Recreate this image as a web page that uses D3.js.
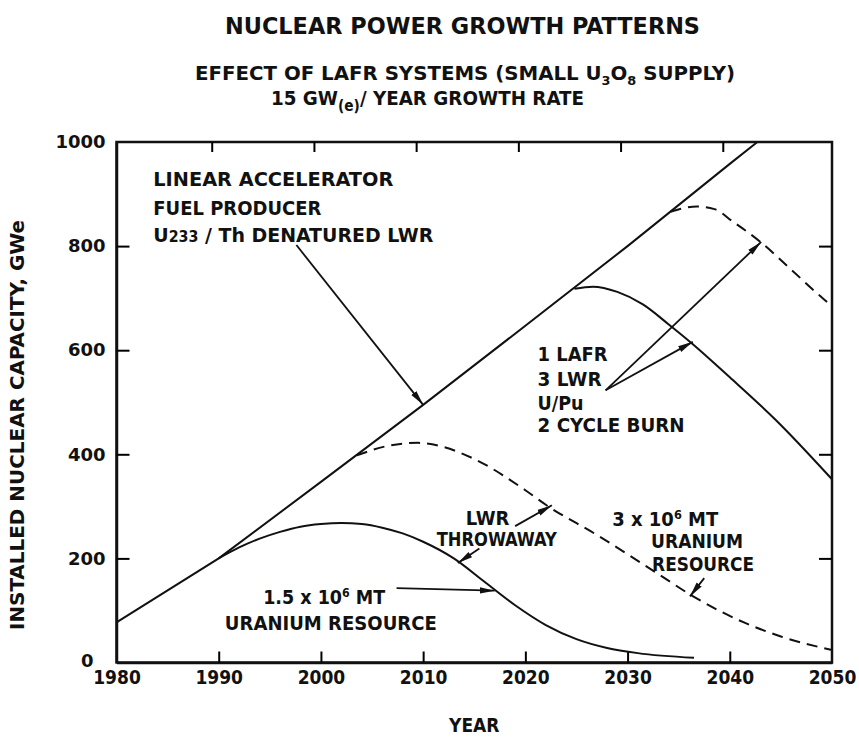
<!DOCTYPE html>
<html>
<head>
<meta charset="utf-8">
<script src="https://cdn.jsdelivr.net/npm/d3@7"></script>
<style>
  body { margin: 0; background: #fff; }
  svg text { font-family: "DejaVu Sans Condensed", "DejaVu Sans", sans-serif; font-weight: bold; fill: #111; }
</style>
</head>
<body>
<div id="content"></div>
<script>
// axis ticks
var xTicks = [1980, 1990, 2000, 2010, 2020, 2030, 2040, 2050];
var yTicks = [0, 200, 400, 600, 800, 1000];

// linear accelerator fuel producer (upper straight line)
var lafrYears  = [1980, 1990, 2000, 2010, 2020, 2030, 2040, 2042.7];
var lafrValues = [77, 200, 347, 495, 647, 800, 958, 1000];

// 1.5 x 10^6 MT uranium resource, LWR throwaway (solid)
var small1Years  = [1990, 1992, 1994, 1996, 1998, 2000, 2002, 2004, 2006, 2008, 2010, 2013, 2016, 2019, 2022, 2025, 2028, 2031, 2036.5];
var small1Values = [200, 221, 238, 251, 261, 266, 268, 266, 259, 248, 232, 200, 155, 110, 72, 45, 28, 18, 9];

// 3 x 10^6 MT uranium resource, LWR throwaway (dashed)
var large1Years  = [2003.5, 2006.5, 2009.5, 2012, 2015, 2020, 2022, 2027, 2033, 2036.5, 2041.5, 2045, 2050];
var large1Values = [398, 416, 422, 414, 391, 331, 303, 245, 170, 126, 76, 50, 24];

// 1 LAFR / 3 LWR U/Pu 2 cycle burn, small resource (solid)
var small2Years  = [2024.8, 2026.6, 2029, 2031.5, 2034, 2036.3, 2040, 2044.5, 2050];
var small2Values = [718, 722, 712, 688, 650, 613, 548, 466, 352];

// 1 LAFR / 3 LWR U/Pu 2 cycle burn, large resource (dashed)
var large2Years  = [2034.2, 2036.8, 2038.5, 2040.3, 2043, 2046, 2049.2, 2050];
var large2Values = [866, 876, 871, 847, 808, 755, 698, 685];

// annotation arrows: [fromYear, fromValue, toYear, toValue]
var arrows = [
  [1997.6, 802, 2010.0, 495],
  [2027.85, 523, 2043.07, 808],
  [2027.85, 523, 2036.38, 616],
  [2007.4, 143, 2017.0, 138],
  [2019.0, 262, 2022.6, 302],
  [2015.5, 219, 2013.4, 191],
  [2037.5, 162, 2036.1, 127]
];

var W = 859, H = 741;
var margin = { top: 142, right: 27, bottom: 78.5, left: 116.5 };

var svg = d3.select('#content').append('svg')
  .attr('width', W)
  .attr('height', H);

var x = d3.scaleLinear().domain([1980, 2050]).range([margin.left, W - margin.right]);
var y = d3.scaleLinear().domain([0, 1000]).range([H - margin.bottom, margin.top]);

svg.append('defs').append('marker')
  .attr('id', 'head')
  .attr('viewBox', '0 -4 15 8')
  .attr('refX', 15)
  .attr('refY', 0)
  .attr('markerWidth', 15)
  .attr('markerHeight', 8)
  .attr('markerUnits', 'userSpaceOnUse')
  .attr('orient', 'auto')
  .append('path')
  .attr('d', 'M0,-3.2L15,0L0,3.2Z')
  .attr('fill', '#111');

// frame
svg.append('rect')
  .attr('x', x(1980)).attr('y', y(1000))
  .attr('width', x(2050) - x(1980)).attr('height', y(0) - y(1000))
  .attr('fill', 'none').attr('stroke', '#111').attr('stroke-width', 2.5);

// axes
var inner = xTicks.slice(1, -1);
var innerY = yTicks.slice(1, -1);

var xAxis = svg.append('g')
  .attr('transform', 'translate(0,' + y(0) + ')')
  .call(d3.axisBottom(x).tickValues(xTicks).tickFormat(d3.format('d'))
    .tickSize(-11).tickSizeOuter(0).tickPadding(8));
xAxis.selectAll('.tick line').attr('stroke-width', 2).attr('opacity', function(d) { return inner.indexOf(d) < 0 ? 0 : 1; });
xAxis.selectAll('text').style('font-size', '19px').attr('fill', '#111');

var yAxis = svg.append('g')
  .attr('transform', 'translate(' + x(1980) + ',0)')
  .call(d3.axisLeft(y).tickValues(yTicks).tickFormat(d3.format('d'))
    .tickSize(-13).tickSizeOuter(0).tickPadding(11));
yAxis.selectAll('.tick line').attr('stroke-width', 2).attr('opacity', function(d) { return innerY.indexOf(d) < 0 ? 0 : 1; });
yAxis.selectAll('text').style('font-size', '18px').style('font-family', '"DejaVu Sans", sans-serif').attr('fill', '#111');
// the zero label sits left of the corner, clear of the year labels
yAxis.selectAll('.tick').filter(function(d) { return d === 0; }).select('text')
  .attr('x', -23).attr('dy', '0.2em');

var topAxis = svg.append('g')
  .attr('transform', 'translate(-7,' + y(1000) + ')')
  .call(d3.axisTop(x).tickValues(inner).tickFormat('').tickSize(-10).tickSizeOuter(0));
topAxis.select('.domain').remove();
topAxis.selectAll('.tick line').attr('stroke-width', 2);

var rightAxis = svg.append('g')
  .attr('transform', 'translate(' + x(2050) + ',0)')
  .call(d3.axisRight(y).tickValues(innerY).tickFormat('').tickSize(-13).tickSizeOuter(0));
rightAxis.select('.domain').remove();
rightAxis.selectAll('.tick line').attr('stroke-width', 2);

svg.selectAll('.domain').attr('stroke-width', 2.5).attr('stroke', '#111');

// curves
function pairs(xs, vs) { return xs.map(function(d, i) { return [d, vs[i]]; }); }

var straight = d3.line().x(function(d) { return x(d[0]); }).y(function(d) { return y(d[1]); });
var smooth = d3.line().x(function(d) { return x(d[0]); }).y(function(d) { return y(d[1]); }).curve(d3.curveMonotoneX);

var curves = [
  { d: pairs(lafrYears, lafrValues), gen: straight, dash: null },
  { d: pairs(small1Years, small1Values), gen: smooth, dash: null },
  { d: pairs(large1Years, large1Values), gen: smooth, dash: '11,7' },
  { d: pairs(small2Years, small2Values), gen: smooth, dash: null },
  { d: pairs(large2Years, large2Values), gen: smooth, dash: '11,7' }
];

svg.append('g').selectAll('path')
  .data(curves)
  .enter().append('path')
  .attr('d', function(c) { return c.gen(c.d); })
  .attr('fill', 'none')
  .attr('stroke', '#111')
  .attr('stroke-width', 2)
  .attr('stroke-dasharray', function(c) { return c.dash; });

// arrows
svg.append('g').selectAll('line')
  .data(arrows)
  .enter().append('line')
  .attr('x1', function(a) { return x(a[0]); })
  .attr('y1', function(a) { return y(a[1]); })
  .attr('x2', function(a) { return x(a[2]); })
  .attr('y2', function(a) { return y(a[3]); })
  .attr('stroke', '#111')
  .attr('stroke-width', 1.8)
  .attr('marker-end', 'url(#head)');

// labels
function label(yr, val, size, len, anchor) {
  var t = svg.append('text')
    .attr('x', x(yr)).attr('y', y(val))
    .style('font-size', size + 'px')
    .attr('text-anchor', anchor || 'start');
  if (len) t.attr('textLength', len).attr('lengthAdjust', 'spacingAndGlyphs');
  return t;
}

label(1983.6, 915, 20, 240).text('LINEAR ACCELERATOR');
label(1983.6, 860, 20, 168).text('FUEL PRODUCER');
var u = label(1983.6, 807, 20, 280);
u.append('tspan').text('U');
u.append('tspan').style('font-size', '15px').text('233');
u.append('tspan').text(' / Th DENATURED LWR');

label(2021.2, 580, 20, 70).text('1 LAFR');
label(2021.2, 532, 20, 64).text('3 LWR');
label(2021.2, 486, 20, 46).text('U/Pu');
label(2021.2, 442, 20, 147).text('2 CYCLE BURN');

label(2016.3, 265, 20, null, 'middle').text('LWR');
label(2017.2, 223, 20, 120, 'middle').text('THROWAWAY');

var m3 = label(2028.5, 263, 19, 106);
m3.append('tspan').text('3 x 10');
m3.append('tspan').attr('dy', -7).style('font-size', '12px').text('6');
m3.append('tspan').attr('dy', 7).text(' MT');
label(2032.3, 220, 20, 92).text('URANIUM');
label(2032.4, 176, 20, 102).text('RESOURCE');

var m15 = label(1994.35, 113, 19, 122);
m15.append('tspan').text('1.5 x 10');
m15.append('tspan').attr('dy', -7).style('font-size', '12px').text('6');
m15.append('tspan').attr('dy', 7).text(' MT');
label(1990.6, 63, 19, 212).text('URANIUM RESOURCE');

// titles
svg.append('text')
  .attr('x', 462.5).attr('y', 34)
  .attr('text-anchor', 'middle')
  .attr('textLength', 475).attr('lengthAdjust', 'spacingAndGlyphs')
  .style('font-size', '23px').style('font-weight', 'bold')
  .text('NUCLEAR POWER GROWTH PATTERNS');

var sub = svg.append('text')
  .attr('x', 195).attr('y', 80)
  .attr('textLength', 540).attr('lengthAdjust', 'spacingAndGlyphs')
  .style('font-size', '20px');
sub.append('tspan').text('EFFECT OF LAFR SYSTEMS (SMALL U');
sub.append('tspan').attr('dy', 5).style('font-size', '13px').text('3');
sub.append('tspan').attr('dy', -5).text('O');
sub.append('tspan').attr('dy', 5).style('font-size', '13px').text('8');
sub.append('tspan').attr('dy', -5).text(' SUPPLY)');

var rate = svg.append('text')
  .attr('x', 271).attr('y', 105)
  .attr('textLength', 313).attr('lengthAdjust', 'spacingAndGlyphs')
  .style('font-size', '20px');
rate.append('tspan').text('15 GW');
rate.append('tspan').attr('dy', 6).style('font-size', '15px').text('(e)');
rate.append('tspan').attr('dy', -6).text('/ YEAR GROWTH RATE');

svg.append('text')
  .attr('x', (x(1980) + x(2050)) / 2).attr('y', 732)
  .attr('text-anchor', 'middle')
  .style('font-size', '19px')
  .text('YEAR');

svg.append('text')
  .attr('transform', 'translate(24,425) rotate(-90)')
  .attr('text-anchor', 'middle')
  .attr('textLength', 410).attr('lengthAdjust', 'spacingAndGlyphs')
  .style('font-size', '20px')
  .text('INSTALLED NUCLEAR CAPACITY, GWe');
</script>
</body>
</html>
